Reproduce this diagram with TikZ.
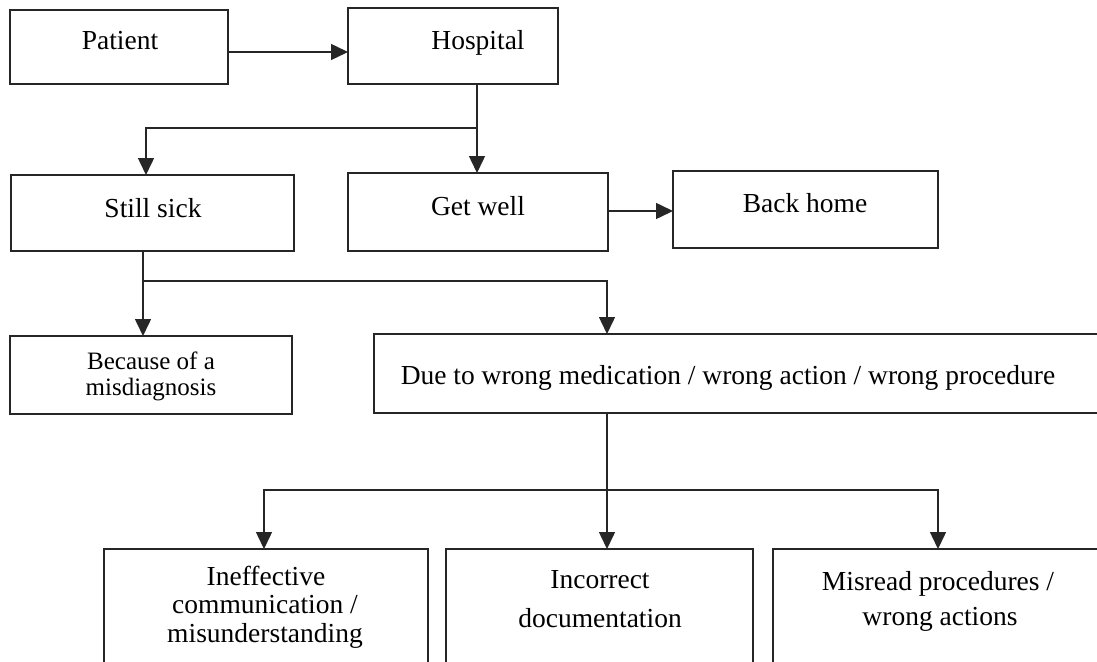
\documentclass[tikz,border=0pt]{standalone}
\usepackage{fontspec}
\setmainfont{Liberation Serif}
\usetikzlibrary{arrows.meta}
\begin{document}
\begin{tikzpicture}[x=1pt,y=-1pt,
  box/.style={draw=black!85, line width=1.5pt, rectangle, inner sep=0pt, outer sep=0pt, anchor=north west},
  txt/.style={font=\fontsize{27.5}{30}\selectfont, inner sep=0pt, anchor=base, text=black},
  smalltxt/.style={font=\fontsize{25}{27}\selectfont, inner sep=0pt, anchor=base, text=black},
  conn/.style={draw=black!85, line width=1.5pt},
  arr/.style={conn, -{Triangle[length=17pt,width=16pt]}}]
\useasboundingbox (0,0) rectangle (1097,661);
\clip (0,0) rectangle (1097,661);
\fill[white] (0,0) rectangle (1097,661);

% boxes
\node[box, minimum width=218pt, minimum height=74pt] (patient) at (10,10) {};
\node[box, minimum width=210pt, minimum height=76pt] (hospital) at (348,8) {};
\node[box, minimum width=283pt, minimum height=76pt] (stillsick) at (11,175) {};
\node[box, minimum width=260pt, minimum height=78pt] (getwell) at (348,173) {};
\node[box, minimum width=265pt, minimum height=77pt] (backhome) at (673,171) {};
\node[box, minimum width=282pt, minimum height=78pt] (because) at (10,336) {};
\node[box, minimum width=740pt, minimum height=79pt] (due) at (374,334) {};
\node[box, minimum width=324pt, minimum height=140pt] (ineff) at (104,549) {};
\node[box, minimum width=307pt, minimum height=140pt] (incorrect) at (446,549) {};
\node[box, minimum width=340pt, minimum height=140pt] (misread) at (773,549) {};

% texts
\node[txt] (patientT) at (120,50) {Patient};
\node[txt] (hospitalT) at (478,49) {Hospital};
\node[txt] (stillsickT) at (153,217) {Still sick};
\node[txt] (getwellT) at (478,215) {Get well};
\node[txt] (backhomeT) at (805,212) {Back home};
\node[smalltxt] (becauseT1) at (151,369) {Because of a};
\node[smalltxt] (becauseT2) at (151,395) {misdiagnosis};
\node[txt] (dueT) at (728,384) {Due to wrong medication / wrong action / wrong procedure};
\node[txt] (ineffT1) at (266,585) {Ineffective};
\node[txt] (ineffT2) at (265,613) {communication /};
\node[txt] (ineffT3) at (265,642) {misunderstanding};
\node[txt] (incorrectT1) at (600,588) {Incorrect};
\node[txt] (incorrectT2) at (600,627) {documentation};
\node[txt] (misreadT1) at (938,590) {Misread procedures /};
\node[txt] (misreadT2) at (940,625) {wrong actions};

% junction coordinates
\coordinate (h1) at (477,128);
\coordinate (s1) at (146,128);
\coordinate (s2) at (143,281);
\coordinate (d1) at (607,281);
\coordinate (d2) at (607,490);
\coordinate (b1) at (264,490);
\coordinate (b3) at (938,490);

% connectors
\draw[arr] (patient.east |- 0,52) -- (hospital.west |- 0,52);
\draw[arr] (hospital.south -| h1) -- (getwell.north -| h1);
\draw[arr] (h1) -- (s1) -- (stillsick.north -| s1);
\draw[arr] (getwell.east |- 0,211) -- (backhome.west |- 0,211);
\draw[arr] (stillsick.south -| s2) -- (because.north -| s2);
\draw[arr] (s2) -- (d1) -- (due.north -| d1);
\draw[arr] (due.south -| d2) -- (incorrect.north -| d2);
\draw[arr] (d2) -- (b1) -- (ineff.north -| b1);
\draw[arr] (d2) -- (b3) -- (misread.north -| b3);
\end{tikzpicture}
\end{document}
